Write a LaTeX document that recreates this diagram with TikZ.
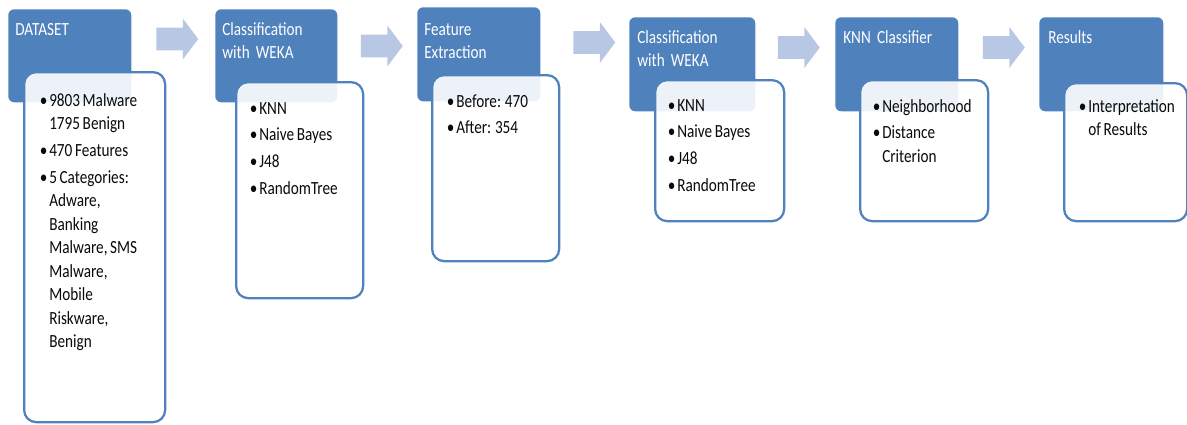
\documentclass[tikz,border=0pt]{standalone}
\usepackage{fontspec}
\setmainfont{Carlito}[FakeStretch=0.82, WordSpace=0.75]
\usepackage{xcolor}
\usepackage{tikz}
\usetikzlibrary{shapes.arrows, positioning, calc}
\definecolor{hdrblue}{RGB}{79,129,189}
\definecolor{arrblue}{RGB}{183,199,228}
\definecolor{txtdark}{RGB}{10,10,10}
\newdimen\pu \pu=0.025cm
\newcommand{\boxfont}{\fontsize{13.2}{16.7}\selectfont}
\newcommand{\bul}{\makebox[10\pu][l]{\hspace{0.5\pu}\textbullet}}
\tikzset{
  hdr/.style={rectangle, fill=hdrblue, rounded corners=6*\pu,
    inner sep=0pt, anchor=north west},
  cbox/.style={rectangle, draw=hdrblue, fill=white, fill opacity=0.9,
    line width=1.6pt, rounded corners=12*\pu, inner sep=0pt, anchor=north west},
  htxt/.style={anchor=base west, inner sep=0pt, text=white, font=\boxfont,
    text width=112*\pu, align=left},
  ctxt/.style={anchor=base west, inner sep=0pt, text=txtdark, font=\boxfont},
  barrow/.style={single arrow, fill=arrblue, inner xsep=0pt, inner ysep=11*\pu,
    minimum height=42*\pu, single arrow head extend=9*\pu,
    single arrow tip angle=106}
}
\begin{document}
\begin{tikzpicture}[x=0.025cm, y=-0.025cm]
  \useasboundingbox (0,0) rectangle (1187,424);

  % Header boxes
  \node[hdr, minimum width=123*\pu, minimum height=93*\pu] (h1) at (8,9) {};
  \node[hdr, minimum width=122*\pu, minimum height=93*\pu] (h2) at (215,9) {};
  \node[hdr, minimum width=123*\pu, minimum height=94*\pu] (h3) at (417,7) {};
  \node[hdr, minimum width=126*\pu, minimum height=94*\pu] (h4) at (629,17) {};
  \node[hdr, minimum width=123*\pu, minimum height=94*\pu] (h5) at (835,17) {};
  \node[hdr, minimum width=124*\pu, minimum height=94*\pu] (h6) at (1039,17) {};

  % Content boxes
  \node[cbox, minimum width=141*\pu, minimum height=350*\pu] (c1) at (23,71) {};
  \node[cbox, minimum width=127*\pu, minimum height=216*\pu] (c2) at (235,81) {};
  \node[cbox, minimum width=127*\pu, minimum height=186*\pu] (c3) at (431,74) {};
  \node[cbox, minimum width=129*\pu, minimum height=141*\pu] (c4) at (654,79) {};
  \node[cbox, minimum width=128*\pu, minimum height=141*\pu] (c5) at (859,79) {};
  \node[cbox, minimum width=123*\pu, minimum height=138*\pu] (c6) at (1063,82) {};

  % Block arrows
  \node[barrow] (a1) at (173,39) {};
  \node[barrow] (a2) at (377.5,46) {};
  \node[barrow] (a3) at (590,42.5) {};
  \node[barrow] (a4) at (794.5,47.5) {};
  \node[barrow] (a5) at (999.5,47.5) {};

  % Header texts
  \node[htxt] (h1t) at ([shift={(7,26)}]h1.north west) {DATASET};
  \node[htxt] (h2t) at ([shift={(7,26)}]h2.north west) {Classification\\with WEKA};
  \node[htxt] (h3t) at ([shift={(7,28)}]h3.north west) {Feature\\Extraction};
  \node[htxt] (h4t) at ([shift={(8,26)}]h4.north west) {Classification\\with WEKA};
  \node[htxt] (h5t) at ([shift={(8,26)}]h5.north west) {KNN Classifier};
  \node[htxt] (h6t) at ([shift={(9,26)}]h6.north west) {Results};

  % Content texts
  \node[ctxt] (c1t) at ([shift={(16,35)}]c1.north west) {%
    \begin{tabular}[t]{@{}l@{}l@{}}
      \bul & 9803 Malware\\ & 1795 Benign\\[3.5\pu]
      \bul & 470 Features\\[3.5\pu]
      \bul & 5 Categories:\\ & Adware,\\ & Banking\\ & Malware, SMS\\
           & Malware,\\ & Mobile\\ & Riskware,\\ & Benign
    \end{tabular}};
  \node[ctxt] (c2t) at ([shift={(14,33)}]c2.north west) {%
    \begin{tabular}[t]{@{}l@{}l@{}}
      \bul & KNN\\[3.5\pu] \bul & Naive Bayes\\[3.5\pu]
      \bul & J48\\[3.5\pu] \bul & RandomTree
    \end{tabular}};
  \node[ctxt] (c3t) at ([shift={(15,33)}]c3.north west) {%
    \begin{tabular}[t]{@{}l@{}l@{}}
      \bul & Before: 470\\[3.5\pu] \bul & After: 354
    \end{tabular}};
  \node[ctxt] (c4t) at ([shift={(13,32)}]c4.north west) {%
    \begin{tabular}[t]{@{}l@{}l@{}}
      \bul & KNN\\[3.5\pu] \bul & Naive Bayes\\[3.5\pu]
      \bul & J48\\[3.5\pu] \bul & RandomTree
    \end{tabular}};
  \node[ctxt] (c5t) at ([shift={(13,33)}]c5.north west) {%
    \begin{tabular}[t]{@{}l@{}l@{}}
      \bul & Neighborhood\\[3.5\pu] \bul & Distance\\ & Criterion
    \end{tabular}};
  \node[ctxt] (c6t) at ([shift={(15,30)}]c6.north west) {%
    \begin{tabular}[t]{@{}l@{}l@{}}
      \bul & Interpretation\\ & of Results
    \end{tabular}};
\end{tikzpicture}
\end{document}
